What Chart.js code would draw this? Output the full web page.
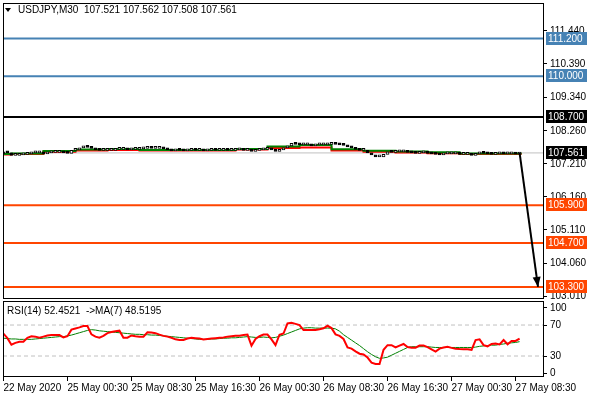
<!DOCTYPE html>
<html>
<head>
<meta charset="utf-8">
<script src="https://cdn.jsdelivr.net/npm/chart.js@4.4.0/dist/chart.umd.min.js"></script>
<style>
  html, body { margin: 0; padding: 0; background: #fff; }
  #main { position: absolute; left: 0; top: 0; width: 590px; height: 300px; }
  #rsi { position: absolute; left: 0; top: 300px; width: 590px; height: 100px; }
</style>
</head>
<body>
<div id="main"><canvas id="cMain"></canvas></div>
<div id="rsi"><canvas id="cRsi"></canvas></div>
<script>
// --- data ---
const symbolTitle = 'USDJPY,M30  107.521 107.562 107.508 107.561';
const rsiTitle = 'RSI(14) 52.4521  ->MA(7) 48.5195';

const xTickIdx = [0, 16, 32, 48, 64, 80, 96, 112, 128];
const xLabels = ['22 May 2020', '25 May 00:30', '25 May 08:30', '25 May 16:30', '26 May 00:30',
                 '26 May 08:30', '26 May 16:30', '27 May 00:30', '27 May 08:30'];
const priceTicks = [111.44, 110.39, 109.34, 108.26, 107.21, 106.16, 105.11, 104.06, 103.01];

const blueLevels = [111.2, 110.0];
const blackLevels = [108.7];
const orangeLevels = [105.9, 104.7, 103.3];
const lastPrice = 107.561;

const firstOpen = 107.53;
const closes = [
  107.593, 107.561, 107.482, 107.482, 107.497, 107.513, 107.529, 107.561, 107.561, 107.561,
  107.529, 107.561, 107.577, 107.577, 107.577, 107.561, 107.545, 107.641, 107.656, 107.720,
  107.752, 107.736, 107.704, 107.656, 107.641, 107.641, 107.641, 107.641, 107.672, 107.672,
  107.672, 107.656, 107.672, 107.672, 107.688, 107.704, 107.736, 107.704, 107.704, 107.704,
  107.688, 107.656, 107.625, 107.656, 107.641, 107.625, 107.641, 107.656, 107.641, 107.641,
  107.625, 107.641, 107.656, 107.641, 107.641, 107.656, 107.641, 107.641, 107.656, 107.656,
  107.641, 107.656, 107.609, 107.641, 107.656, 107.672, 107.672, 107.656, 107.609, 107.656,
  107.720, 107.784, 107.863, 107.831, 107.815, 107.815, 107.815, 107.784, 107.815, 107.815,
  107.815, 107.831, 107.847, 107.831, 107.815, 107.800, 107.752, 107.720, 107.672, 107.641,
  107.641, 107.561, 107.497, 107.434, 107.434, 107.513, 107.593, 107.577, 107.593, 107.593,
  107.593, 107.577, 107.561, 107.545, 107.561, 107.561, 107.545, 107.529, 107.513, 107.497,
  107.529, 107.529, 107.529, 107.529, 107.513, 107.513, 107.529, 107.482, 107.529, 107.561,
  107.545, 107.529, 107.513, 107.529, 107.545, 107.529, 107.529, 107.545, 107.521, 107.561
];

// higher timeframe averages, drawn as steps
const maStarts = [0, 2, 10, 18, 26, 34, 42, 50, 58, 66, 74, 82, 90, 98, 106, 114, 122];
const maEnd = 129.5;
const greenMa = [107.545, 107.529, 107.545, 107.625, 107.672, 107.688, 107.656, 107.656, 107.656,
                 107.688, 107.768, 107.815, 107.679, 107.634, 107.609, 107.583, 107.545];
const redMa = [107.529, 107.513, 107.529, 107.602, 107.641, 107.656, 107.641, 107.641, 107.641,
               107.672, 107.720, 107.736, 107.641, 107.602, 107.577, 107.551, 107.529];

const arrowFrom = [129, 107.561];
const arrowTo = [133.6, 103.3];

const rsiValues = [
  59, 53, 44.5, 47, 48.5, 48.5, 53.5, 55.5, 55, 53.6,
  55, 56.5, 57, 57, 57, 54, 55.5, 64, 65.5, 67,
  68.7, 68.7, 58, 55, 53.6, 56, 59.5, 61, 62, 62.7,
  53.6, 53.6, 56.5, 55.5, 55, 55, 60.6, 60.3, 59.5, 57.6,
  56, 55, 53.5, 51.5, 50.7, 50.7, 52.5, 53.6, 53, 52.5,
  51.4, 52, 52.5, 53, 53.5, 54, 55, 55.5, 56, 56.2,
  57, 57.6, 43.3, 52, 55.5, 57.6, 57.6, 51.5, 44, 57.5,
  59, 72, 73, 71.5, 70, 63.5, 63.5, 63.5, 63.5, 64.5,
  65.7, 69, 66, 58, 56, 52, 41, 39.5, 36, 33,
  32, 28, 21.5, 19.7, 19.7, 38, 44, 44, 41, 43.5,
  45.5, 41.5, 40.7, 40.7, 43.5, 43.5, 41.5, 38.5, 35.6, 39.5,
  41, 42, 40.5, 39.5, 39, 38.8, 38.7, 38, 50.6, 51.5,
  44, 42.5, 45.5, 46, 45, 50.6, 45.1, 49.4, 49.4, 52.45
];
const rsiMa = [
  53, 52.5, 52, 52, 51.5, 51.5, 51.5, 51.5, 52, 52.5,
  53, 53.5, 54, 54.5, 55, 55, 56, 57, 58.5, 60,
  61.5, 63, 64, 63.5, 62.5, 62, 61.5, 61, 60.5, 60,
  59.5, 59, 58.5, 58, 58, 57.5, 57.5, 57, 57, 56.5,
  56, 55.5, 55, 54.5, 54, 53.5, 53, 52.5, 52, 51.5,
  51.5, 51.5, 52, 52, 52.5, 53, 53, 53.5, 53.5, 54,
  54.5, 55, 54.5, 54, 54, 54.5, 54, 53.5, 54, 55.5,
  57, 59, 61, 63, 65, 66, 66.5, 66.5, 66, 66,
  66, 66, 66, 65, 62, 57.5, 54, 50.5, 47, 43.5,
  39.5, 35.5, 32, 29, 27, 27.5, 28.5, 31, 33.5, 36,
  38.5, 41, 42, 42, 42, 42, 42, 41.5, 41, 41,
  41, 41, 41, 41, 41, 41, 41, 41, 41.5, 42.5,
  43, 43.5, 44, 44, 45, 45.5, 46.5, 47, 47.5, 48.52
];
const rsiLevels = [70, 30];
// MT4 keeps the 100 / 0 captions inside the pane
const rsiTickPos = [92, 70, 30, 8];
const rsiTickText = ['100', '70', '30', '0'];

const X_MIN = -0.1, X_MAX = 135.1;
const BLUE = '#4682b4', ORANGE = '#ff4500';
const FONT = '"Liberation Sans", Arial, sans-serif';

Chart.defaults.font.family = FONT;
Chart.defaults.font.size = 10;
Chart.defaults.color = '#000';
Chart.defaults.animation = false;

function hline(v, color, width, dash) {
  return {
    type: 'line', data: [{x: X_MIN, y: v}, {x: X_MAX, y: v}],
    borderColor: color, borderWidth: width, borderDash: dash || [],
    pointRadius: 0, order: 5
  };
}

function stepLine(vals, color, order) {
  const pts = maStarts.map((s, k) => ({x: s, y: vals[k]}));
  pts.push({x: maEnd, y: vals[vals.length - 1]});
  return {type: 'line', data: pts, stepped: 'after', borderColor: color, borderWidth: 2, pointRadius: 0, order: order};
}

// keep chart.js from reserving room for half labels at the ends
function fixedSide(w) {
  return s => { s.width = w; s.paddingTop = 0; s.paddingBottom = 0; };
}
function fixedBottom(h) {
  return s => { s.height = h; s.paddingLeft = 0; s.paddingRight = 0; };
}

const candles = closes.map((c, i) => ({x: i, y: [i ? closes[i - 1] : firstOpen, c]}));

const tags = [
  ...blueLevels.map(v => ({v, bg: BLUE})),
  ...blackLevels.map(v => ({v, bg: '#000'})),
  {v: lastPrice, bg: '#000'},
  ...orangeLevels.map(v => ({v, bg: ORANGE}))
];

const mainDecor = {
  id: 'mainDecor',
  afterDraw(chart) {
    const {ctx, chartArea: a, scales: {y}} = chart;
    ctx.save();
    ctx.strokeStyle = '#000';
    ctx.lineWidth = 1;
    ctx.strokeRect(a.left + 0.5, a.top + 0.5, a.right - a.left - 1, a.bottom - a.top - 1);

    // arrow head
    const m = chart.getDatasetMeta(chart.data.datasets.length - 1);
    const p0 = m.data[0], p1 = m.data[1];
    const ang = Math.atan2(p1.y - p0.y, p1.x - p0.x);
    ctx.fillStyle = '#000';
    ctx.beginPath();
    ctx.moveTo(p1.x, p1.y);
    ctx.lineTo(p1.x - 10 * Math.cos(ang) + 4 * Math.sin(ang), p1.y - 10 * Math.sin(ang) - 4 * Math.cos(ang));
    ctx.lineTo(p1.x - 10 * Math.cos(ang) - 4 * Math.sin(ang), p1.y - 10 * Math.sin(ang) + 4 * Math.cos(ang));
    ctx.closePath();
    ctx.fill();

    // price tags on the axis
    ctx.font = '10px ' + FONT;
    ctx.textBaseline = 'middle';
    ctx.textAlign = 'left';
    tags.forEach(t => {
      const py = Math.round(y.getPixelForValue(t.v));
      ctx.fillStyle = t.bg;
      ctx.fillRect(a.right + 2, py - 7, 41, 13);
      ctx.fillStyle = '#fff';
      ctx.fillText(t.v.toFixed(3), a.right + 4, py);
    });

    // symbol caption
    ctx.fillStyle = '#000';
    ctx.beginPath();
    ctx.moveTo(5, 8); ctx.lineTo(11, 8); ctx.lineTo(8, 12); ctx.closePath();
    ctx.fill();
    ctx.fillText(symbolTitle, 18, 10.5);
    ctx.restore();
  }
};

new Chart(document.getElementById('cMain'), {
  type: 'bar',
  data: {
    datasets: [
      {type: 'bar', data: candles, barThickness: 3, minBarLength: 2, borderWidth: 1, borderSkipped: false,
       borderColor: '#000', grouped: false, order: 1,
       backgroundColor: candles.map(d => d.y[1] >= d.y[0] ? '#fff' : '#000')},
      stepLine(redMa, '#ff0000', 3),
      stepLine(greenMa, '#008000', 2),
      hline(lastPrice, '#c0c0c0', 1),
      ...blueLevels.map(v => hline(v, BLUE, 2)),
      ...blackLevels.map(v => hline(v, '#000', 2)),
      ...orangeLevels.map(v => hline(v, ORANGE, 2)),
      {type: 'line', data: [{x: arrowFrom[0], y: arrowFrom[1]}, {x: arrowTo[0], y: arrowTo[1]}],
       borderColor: '#000', borderWidth: 2, pointRadius: 0, order: 0}
    ]
  },
  options: {
    responsive: true,
    maintainAspectRatio: false,
    layout: {padding: {left: 3, top: 3, right: 0, bottom: 1}},
    plugins: {legend: {display: false}, tooltip: {enabled: false}},
    scales: {
      x: {type: 'linear', min: X_MIN, max: X_MAX, offset: false, display: false},
      y: {
        position: 'right', min: 102.915, max: 112.33,
        afterFit: fixedSide(46),
        afterBuildTicks: s => { s.ticks = priceTicks.map(v => ({value: v})); },
        ticks: {callback: v => v.toFixed(3), padding: 3, color: '#000'},
        grid: {drawOnChartArea: false, drawTicks: true, tickLength: 3, color: '#000'},
        border: {display: false}
      }
    }
  },
  plugins: [mainDecor]
});

const rsiDecor = {
  id: 'rsiDecor',
  afterDraw(chart) {
    const {ctx, chartArea: a} = chart;
    ctx.save();
    ctx.strokeStyle = '#000';
    ctx.lineWidth = 1;
    ctx.strokeRect(a.left + 0.5, a.top + 0.5, a.right - a.left - 1, a.bottom - a.top - 1);
    ctx.fillStyle = '#000';
    ctx.font = '10px ' + FONT;
    ctx.textBaseline = 'middle';
    ctx.fillText(rsiTitle, 7, 11);
    ctx.restore();
  }
};

new Chart(document.getElementById('cRsi'), {
  type: 'line',
  data: {
    datasets: [
      {data: rsiValues.map((v, i) => ({x: i, y: v})), borderColor: '#ff0000', borderWidth: 2, pointRadius: 0, order: 1},
      {data: rsiMa.map((v, i) => ({x: i, y: v})), borderColor: '#008000', borderWidth: 1, pointRadius: 0, order: 2},
      ...rsiLevels.map(v => hline(v, '#c0c0c0', 1, [4, 3]))
    ]
  },
  options: {
    responsive: true,
    maintainAspectRatio: false,
    layout: {padding: {left: 3, top: 1, right: 0, bottom: 0}},
    plugins: {legend: {display: false}, tooltip: {enabled: false}},
    scales: {
      x: {
        type: 'linear', min: X_MIN, max: X_MAX, offset: false,
        afterFit: fixedBottom(23),
        afterBuildTicks: s => { s.ticks = xTickIdx.map(v => ({value: v})); },
        ticks: {callback: (v, i) => xLabels[i], align: 'start', autoSkip: false, maxRotation: 0, minRotation: 0, padding: 1, color: '#000'},
        grid: {drawOnChartArea: false, drawTicks: true, tickLength: 4, color: '#000'},
        border: {display: false}
      },
      y: {
        position: 'right', min: 2.9, max: 101,
        afterFit: fixedSide(46),
        afterBuildTicks: s => { s.ticks = rsiTickPos.map(v => ({value: v})); },
        ticks: {callback: (v, i) => rsiTickText[i], padding: 3, color: '#000'},
        grid: {drawOnChartArea: false, drawTicks: true, tickLength: 3, color: '#000'},
        border: {display: false}
      }
    }
  },
  plugins: [rsiDecor]
});
</script>
</body>
</html>
